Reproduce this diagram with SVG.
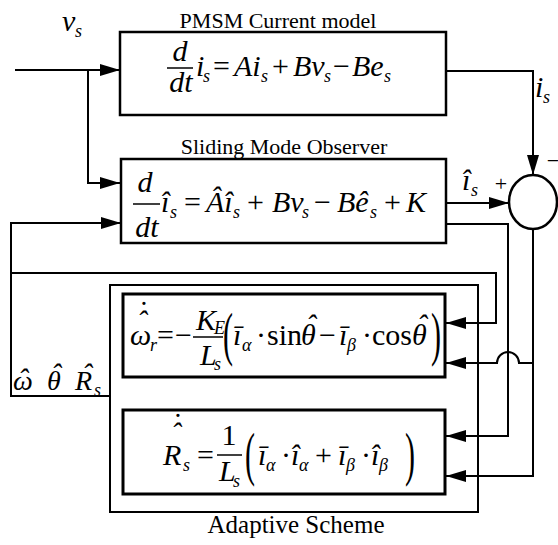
<svg xmlns="http://www.w3.org/2000/svg" width="558" height="545" viewBox="0 0 558 545" font-family="Liberation Serif">
<defs>
<marker id="ah" markerUnits="userSpaceOnUse" markerWidth="20" markerHeight="12" refX="20" refY="6" orient="auto">
<path d="M0,0 L20,6 L0,12 z" fill="#000"/>
</marker>
</defs>
<style>
.ln{stroke:#000;stroke-width:2;fill:none}
.bx{fill:#fff;stroke:#000;stroke-width:2.5}
.bx3{fill:#fff;stroke:#000;stroke-width:3}
.ob{fill:none;stroke:#000;stroke-width:2}
.bar{stroke:#000;stroke-width:1.5}
.eq{font-size:30px}
.i{font-style:italic}
.n{font-style:normal}
.sb{font-size:18px;font-style:italic}
.lb{font-size:22px}
.mid{text-anchor:middle}
</style>
<rect width="558" height="545" fill="#fff"/>

<g id="adaptive">
<rect class="ob" x="110" y="285" width="368" height="227"/>
<text x="296" y="533" font-size="25" class="mid">Adaptive Scheme</text>
</g>

<g id="pmsm">
<rect class="bx" x="120" y="32" width="326" height="83"/>
<text x="278" y="28" class="lb mid">PMSM Current model</text>
<text class="eq i mid" x="180" y="61">d</text>
<line class="bar" x1="167" y1="68" x2="193" y2="68"/>
<text class="eq i mid" x="181" y="92">dt</text>
<text class="eq i"><tspan x="196" y="76">i</tspan><tspan class="sb" x="203" y="82">s</tspan><tspan class="n" x="213" y="76">=</tspan><tspan x="234" y="76">Ai</tspan><tspan class="sb" x="261" y="82">s</tspan><tspan class="n" x="272" y="76">+</tspan><tspan x="293" y="76">Bv</tspan><tspan class="sb" x="324" y="82">s</tspan><tspan class="n" x="333" y="76">−</tspan><tspan x="352" y="76">Be</tspan><tspan class="sb" x="384" y="82">s</tspan></text>
</g>

<g id="smo">
<rect class="bx" x="121" y="159" width="325" height="84"/>
<text x="284" y="154" class="lb mid">Sliding Mode Observer</text>
<text class="eq i mid" x="145" y="192">d</text>
<line class="bar" x1="133" y1="204" x2="160" y2="204"/>
<text class="eq i mid" x="147" y="237">dt</text>
<text class="eq i"><tspan x="161" y="212">î</tspan><tspan class="sb" x="170" y="218">s</tspan><tspan class="n" x="184" y="212">=</tspan><tspan x="206" y="212">Âî</tspan><tspan class="sb" x="233" y="218">s</tspan><tspan class="n" x="247" y="212">+</tspan><tspan x="272" y="212">Bv</tspan><tspan class="sb" x="302" y="218">s</tspan><tspan class="n" x="314" y="212">−</tspan><tspan x="337" y="212">Bê</tspan><tspan class="sb" x="370" y="218">s</tspan><tspan class="n" x="384" y="212">+</tspan><tspan x="406" y="212">K</tspan></text>
</g>

<g id="eq-omega">
<rect class="bx3" x="123" y="294" width="322" height="83"/>
<text class="eq i"><tspan x="130" y="345">ω</tspan><tspan x="137" y="331">ˆ</tspan><tspan x="137" y="322">˙</tspan><tspan class="sb" x="150" y="351">r</tspan><tspan class="n" x="157" y="345">=</tspan><tspan class="n" x="175" y="345">−</tspan></text>
<text class="eq i"><tspan x="196" y="330">K</tspan><tspan class="sb" x="214" y="334">E</tspan></text>
<line class="bar" x1="193" y1="337" x2="223" y2="337"/>
<text class="eq i"><tspan x="200" y="365">L</tspan><tspan class="sb" x="214" y="370">s</tspan></text>
<text class="eq" transform="translate(223,354) scale(1,2)">(</text>
<text class="eq i"><tspan x="233" y="345">ī</tspan><tspan class="sb" x="242" y="351">α</tspan><tspan class="n" x="256" y="345">·</tspan><tspan class="n" x="267" y="345">sin</tspan><tspan x="301" y="345">θ</tspan><tspan x="306" y="335">ˆ</tspan><tspan class="n" x="319" y="345">−</tspan><tspan x="339" y="345">ī</tspan><tspan class="sb" x="347" y="351">β</tspan><tspan class="n" x="362" y="345">·</tspan><tspan class="n" x="372" y="345">cos</tspan><tspan x="412" y="345">θ</tspan><tspan x="417" y="335">ˆ</tspan></text>
<text class="eq" transform="translate(431,354) scale(1,2)">)</text>
</g>

<g id="eq-rs">
<rect class="bx3" x="123" y="410" width="322" height="84"/>
<text class="eq i"><tspan x="163" y="465">R</tspan><tspan x="171" y="443">ˆ</tspan><tspan x="171" y="434">˙</tspan><tspan class="sb" x="183" y="471">s</tspan><tspan class="n" x="197" y="465">=</tspan></text>
<text class="eq mid" x="229" y="445">1</text>
<line class="bar" x1="217" y1="455" x2="242" y2="455"/>
<text class="eq i"><tspan x="219" y="481">L</tspan><tspan class="sb" x="233" y="487">s</tspan></text>
<text class="eq" transform="translate(245,474) scale(1,2)">(</text>
<text class="eq i"><tspan x="258" y="465">ī</tspan><tspan class="sb" x="266" y="471">α</tspan><tspan class="n" x="281" y="465">·</tspan><tspan x="291" y="465">î</tspan><tspan class="sb" x="299" y="471">α</tspan><tspan class="n" x="315" y="465">+</tspan><tspan x="338" y="465">ī</tspan><tspan class="sb" x="346" y="471">β</tspan><tspan class="n" x="361" y="465">·</tspan><tspan x="371" y="465">î</tspan><tspan class="sb" x="379" y="471">β</tspan></text>
<text class="eq" transform="translate(405,474) scale(1,2)">)</text>
</g>

<g id="sum">
<ellipse cx="533" cy="202" rx="24" ry="27" fill="#fff" stroke="#000" stroke-width="2.5"/>
<text x="501" y="191" class="lb mid">+</text>
<text x="553" y="168" class="lb mid">−</text>
</g>

<g id="connectors">
<path class="ln" d="M15,70 H120" marker-end="url(#ah)"/>
<path class="ln" d="M88,70 V183 H120" marker-end="url(#ah)"/>
<path class="ln" d="M446,71 H533 V175" marker-end="url(#ah)"/>
<path class="ln" d="M446,203 H509" marker-end="url(#ah)"/>
<path class="ln" d="M446,224 H508 V436 H446" marker-end="url(#ah)"/>
<path class="ln" d="M533,229 V476 H446" marker-end="url(#ah)"/>
<path class="ln" d="M533,363 H519 A11,11 0 0 0 497,363 H446" marker-end="url(#ah)"/>
<path class="ln" d="M110,396 H11 V223 H121" marker-end="url(#ah)"/>
<path class="ln" d="M11,273 H496 V323 H446" marker-end="url(#ah)"/>
</g>

<g id="labels">
<text class="eq i"><tspan x="62" y="31">v</tspan><tspan class="sb" x="75" y="37">s</tspan></text>
<text class="eq i"><tspan x="535" y="97">i</tspan><tspan class="sb" x="543" y="103">s</tspan></text>
<text class="eq i"><tspan x="462" y="190">î</tspan><tspan class="sb" x="471" y="196">s</tspan></text>
<text class="eq i"><tspan x="13" y="390" font-size="28">ω</tspan><tspan x="18" y="389">ˆ</tspan><tspan x="47" y="390" font-size="28">θ</tspan><tspan x="51" y="384">ˆ</tspan><tspan x="75" y="390" font-size="28">R</tspan><tspan x="82" y="384">ˆ</tspan><tspan class="sb" x="94" y="396">s</tspan></text>
</g>
</svg>
